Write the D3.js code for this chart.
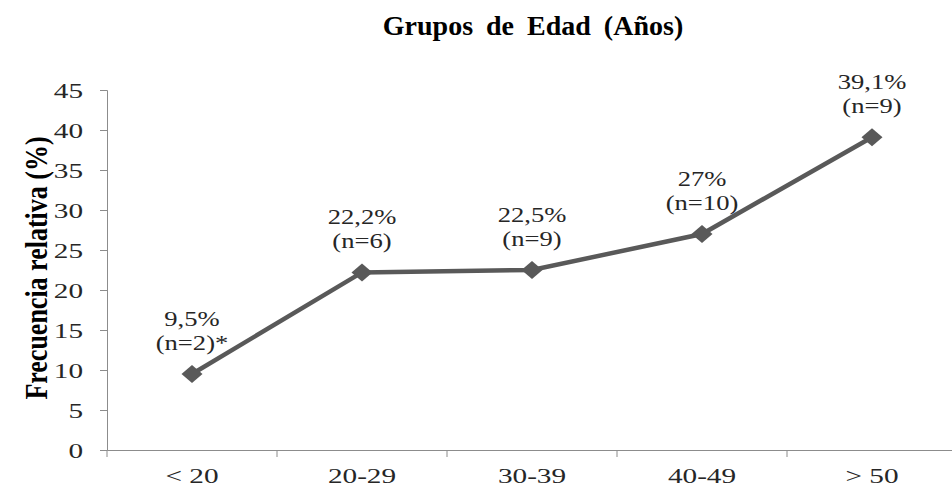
<!DOCTYPE html>
<html>
<head>
<meta charset="utf-8">
<script src="https://cdn.jsdelivr.net/npm/d3@7"></script>
<style>
  body { margin: 0; background: #fff; }
  svg text { font-family: "Liberation Serif", "Times New Roman", serif; }
</style>
</head>
<body>
<div id="wrapper"></div>
<script>
// data
const groups = ["< 20", "20-29", "30-39", "40-49", "> 50"]
const percents = [9.5, 22.2, 22.5, 27, 39.1]
const pctLabels = ["9,5%", "22,2%", "22,5%", "27%", "39,1%"]
const nLabels = ["(n=2)*", "(n=6)", "(n=9)", "(n=10)", "(n=9)"]
const yTicks = [0, 5, 10, 15, 20, 25, 30, 35, 40, 45]

const dataset = groups.map((g, i) => ({
  group: g,
  value: percents[i],
  pct: pctLabels[i],
  n: nLabels[i]
}))

// the original figure is stretched sideways, so text gets a horizontal scale
const stretch = 1.33
const serif = "'Liberation Serif', 'Times New Roman', serif"

// dimensions
const dimensions = {
  width: 952,
  height: 490,
  margin: { top: 90, right: -5, bottom: 40, left: 107 }
}
dimensions.boundedWidth = dimensions.width - dimensions.margin.left - dimensions.margin.right
dimensions.boundedHeight = dimensions.height - dimensions.margin.top - dimensions.margin.bottom

const wrapper = d3.select("#wrapper")
  .append("svg")
    .attr("width", dimensions.width)
    .attr("height", dimensions.height)

wrapper.append("text")
  .attr("transform", "translate(533,35)")
  .attr("text-anchor", "middle")
  .attr("fill", "#000")
  .style("font-family", serif)
  .style("font-size", "28px")
  .style("font-weight", "bold")
  .style("word-spacing", "6px")
  .text("Grupos de Edad (Años)")

const bounds = wrapper.append("g")
  .attr("transform", `translate(${dimensions.margin.left},${dimensions.margin.top})`)

// scales
const xScale = d3.scaleBand()
  .domain(groups)
  .range([0, dimensions.boundedWidth])

const yScale = d3.scaleLinear()
  .domain([0, 45])
  .range([dimensions.boundedHeight, 0])

// axes
const axisColor = "#8c8c8c"

const yAxis = bounds.append("g")
  .call(d3.axisLeft(yScale).tickValues(yTicks).tickSize(7))
yAxis.select(".domain").attr("stroke", axisColor)
yAxis.selectAll(".tick line").attr("stroke", axisColor)
yAxis.selectAll(".tick text")
  .attr("x", 0)
  .attr("transform", `translate(-24,0) scale(${stretch},1)`)
  .attr("fill", "#262626")
  .style("font-size", "22px")
  .style("font-family", serif)

const xAxis = bounds.append("g")
  .attr("transform", `translate(0,${dimensions.boundedHeight})`)
  .call(d3.axisBottom(xScale).tickSize(0))
xAxis.select(".domain").attr("stroke", axisColor)
xAxis.selectAll(".tick text")
  .attr("y", 0)
  .attr("dy", 0)
  .attr("transform", `translate(0,33) scale(${stretch},1)`)
  .attr("fill", "#262626")
  .style("font-size", "22px")
  .style("font-family", serif)

// category boundary ticks
bounds.append("g").selectAll("line")
  .data(groups)
  .enter().append("line")
    .attr("x1", d => xScale(d))
    .attr("x2", d => xScale(d))
    .attr("y1", dimensions.boundedHeight)
    .attr("y2", dimensions.boundedHeight + 7)
    .attr("stroke", axisColor)

wrapper.append("text")
  .attr("transform", `translate(47,${dimensions.margin.top + dimensions.boundedHeight / 2 - 2}) scale(1.25,1) rotate(-90)`)
  .attr("text-anchor", "middle")
  .attr("fill", "#000")
  .style("font-family", serif)
  .style("font-size", "26px")
  .style("font-weight", "bold")
  .text("Frecuencia relativa (%)")

// line
const xAccessor = d => xScale(d.group) + xScale.bandwidth() / 2
const yAccessor = d => yScale(d.value)

bounds.append("path")
  .datum(dataset)
  .attr("d", d3.line().x(xAccessor).y(yAccessor))
  .attr("fill", "none")
  .attr("stroke", "#595959")
  .attr("stroke-width", 4.5)

bounds.selectAll(".marker")
  .data(dataset)
  .enter().append("path")
    .attr("class", "marker")
    .attr("transform", d => `translate(${xAccessor(d)},${yAccessor(d)})`)
    .attr("d", "M0,-9L10.5,0L0,9L-10.5,0Z")
    .attr("fill", "#595959")

// labels
const labels = bounds.selectAll(".label")
  .data(dataset)
  .enter().append("g")
    .attr("class", "label")
    .attr("transform", d => `translate(${xAccessor(d)},${yAccessor(d)}) scale(${stretch},1)`)

labels.append("text")
  .attr("y", -48)
  .attr("text-anchor", "middle")
  .attr("fill", "#262626")
  .style("font-family", serif)
  .style("font-size", "20px")
  .text(d => d.pct)

labels.append("text")
  .attr("y", -24)
  .attr("text-anchor", "middle")
  .attr("fill", "#262626")
  .style("font-family", serif)
  .style("font-size", "20px")
  .text(d => d.n)
</script>
</body>
</html>
